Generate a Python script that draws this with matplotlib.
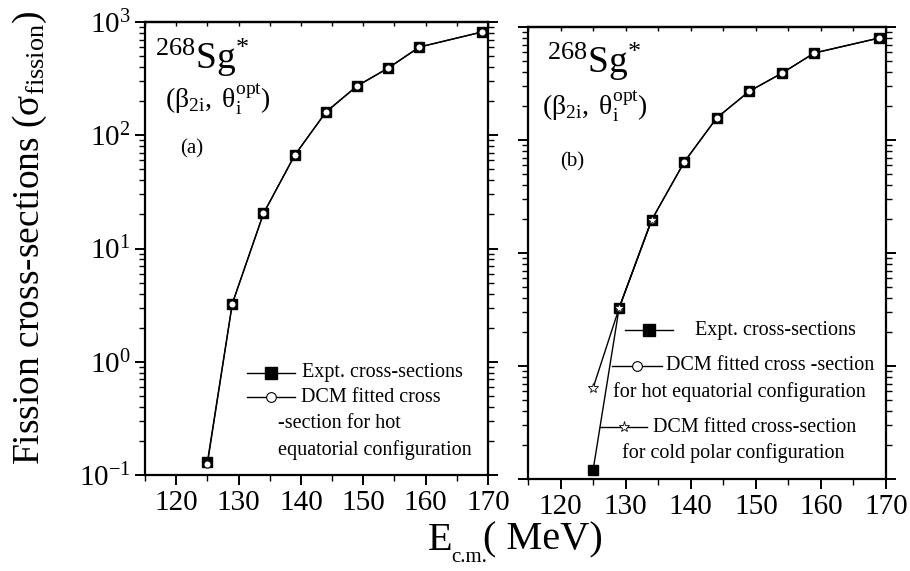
import matplotlib.pyplot as plt
from matplotlib.ticker import LogLocator, MultipleLocator, NullFormatter

plt.rcParams['font.family'] = ['Liberation Serif', 'DejaVu Serif']
plt.rcParams['mathtext.fontset'] = 'custom'
plt.rcParams['mathtext.rm'] = 'Liberation Serif'
plt.rcParams['mathtext.it'] = 'Liberation Serif:italic'
plt.rcParams['axes.unicode_minus'] = False

# centre-of-mass energies (MeV)
energy = [125, 129, 134, 139, 144, 149, 154, 159, 169]

# experimental fission cross-sections
expt_a = [0.13, 3.26, 20.4, 66.5, 160, 272, 392, 601, 815]
expt_b = [0.12, 3.26, 19.6, 63.8, 157, 270, 390, 589, 800]

# DCM fit, hot equatorial configuration
hot_a = [0.125, 3.26, 20.4, 66.5, 160, 272, 392, 601, 815]
hot_b = [3.26, 19.6, 63.8, 157, 270, 390, 589, 800]   # from 129 MeV on

# DCM fit, cold polar configuration
cold_energy = [125, 129, 134]
cold_b = [0.64, 3.26, 19.6]

W, H = 910, 571
fig = plt.figure(figsize=(W / 100, H / 100), dpi=100)


def px_axes(x0, x1, top, bottom):
    return fig.add_axes([x0 / W, 1 - bottom / H, (x1 - x0) / W, (bottom - top) / H])


ax_a = px_axes(145, 488, 22, 475)
ax_b = px_axes(528, 886, 27, 479)

for ax in (ax_a, ax_b):
    ax.set_xlim(115, 170)
    ax.set_yscale('log')
    ax.set_ylim(0.1, 1000)
    ax.xaxis.set_major_locator(MultipleLocator(10))
    ax.xaxis.set_minor_locator(MultipleLocator(5))
    ax.yaxis.set_major_locator(LogLocator(base=10, numticks=10))
    ax.yaxis.set_minor_locator(LogLocator(base=10, subs=range(2, 10), numticks=10))
    ax.yaxis.set_minor_formatter(NullFormatter())
    ax.tick_params(axis='both', which='both', direction='out', right=True,
                   labelsize=21, width=1.4)
    ax.tick_params(which='major', length=7)
    ax.tick_params(which='minor', length=4, width=1.0)
    for s in ax.spines.values():
        s.set_linewidth(1.6)
    top = ax.secondary_xaxis('top')
    top.xaxis.set_major_locator(MultipleLocator(5))
    top.tick_params(direction='in', length=3, labeltop=False, width=1.0)
    top.spines['top'].set_linewidth(1.6)

ax_b.tick_params(axis='y', labelleft=False)

sq = dict(marker='s', ms=7.8, mfc='black', mec='black', color='black', lw=1.0)
ci = dict(marker='o', ms=5.2, mfc='white', mec='black', mew=0.8, color='black', lw=1.0)
st = dict(marker='*', ms=7, mfc='white', mec='black', mew=0.6, color='black', lw=1.0)

# panel (a)
ax_a.plot(energy, expt_a, zorder=3, **sq)
ax_a.plot(energy, hot_a, zorder=4, **ci)

# panel (b)
ax_b.plot(energy, expt_b, zorder=3, **sq)
ax_b.plot(energy[1:], hot_b, zorder=4, **ci)
ax_b.plot(cold_energy, cold_b, zorder=5, **st)


def fx(ax, x):
    b = ax.get_position()
    return (x / W - b.x0) / b.width


def fy(ax, y):
    b = ax.get_position()
    return ((1 - y / H) - b.y0) / b.height


def key(ax, x0, x1, y, style):
    tr = ax.transAxes
    ax.plot([fx(ax, x0), fx(ax, x1)], [fy(ax, y)] * 2, transform=tr,
            color='black', lw=1.0, clip_on=False)
    s = dict(style)
    s.pop('color'), s.pop('lw')
    ax.plot([fx(ax, (x0 + x1) / 2)], [fy(ax, y)], transform=tr, ls='none',
            clip_on=False, **s)


def label(ax, x, y, txt, size=14.5):
    ax.text(fx(ax, x), fy(ax, y), txt, transform=ax.transAxes,
            ha='left', va='center', fontsize=size)


# legend of panel (a)
key(ax_a, 247, 295, 373, dict(sq, ms=8))
label(ax_a, 302, 373, 'Expt. cross-sections')
key(ax_a, 247, 295, 397, dict(ci, ms=7))
label(ax_a, 301, 397, 'DCM fitted cross')
label(ax_a, 278, 424, '-section for hot')
label(ax_a, 278, 450, 'equatorial configuration')

# legend of panel (b)
key(ax_b, 625, 673, 330, dict(sq, ms=8))
label(ax_b, 695, 330, 'Expt. cross-sections')
key(ax_b, 612, 662, 366, dict(ci, ms=7))
label(ax_b, 666, 366, 'DCM fitted cross -section')
label(ax_b, 613, 392, 'for hot equatorial configuration')
key(ax_b, 600, 647, 427, dict(st, ms=8))
label(ax_b, 653, 427, 'DCM fitted cross-section')
label(ax_b, 622, 453, 'for cold polar configuration')

# nucleus and deformation annotations (pixel positions of each line)
for ax, x_sg, y_sg, x_beta, y_beta, tag, x_tag, y_tag in (
        (ax_a, 155, 58, 165, 99, '(a)', 180, 149),
        (ax_b, 547, 62, 542, 106, '(b)', 560, 162)):
    ax.text(fx(ax, x_sg), fy(ax, y_sg), r'$^{268}\mathrm{Sg}^{*}$',
            transform=ax.transAxes, ha='left', va='center', fontsize=27)
    ax.text(fx(ax, x_beta), fy(ax, y_beta),
            r'$(\mathrm{β}_{\mathrm{2i}},\ \mathrm{θ}_{\mathrm{i}}^{\mathrm{opt}})$',
            transform=ax.transAxes, ha='left', va='center', fontsize=20)
    ax.text(fx(ax, x_tag), fy(ax, y_tag), tag, transform=ax.transAxes,
            ha='left', va='center', fontsize=15)

fig.text(30 / W, 1 - 238 / H, r'Fission cross-sections ($\mathrm{σ}_{\mathrm{fission}}$)',
         rotation=90, ha='center', va='center', fontsize=27)

# x label built from pieces so the subscript stays compact
fig.text(428 / W, 1 - 540 / H, 'E', ha='left', va='center', fontsize=29)
fig.text(451 / W, 1 - 557 / H, 'c.m.', ha='left', va='center', fontsize=15)
fig.text(483 / W, 1 - 540 / H, '( MeV)', ha='left', va='center', fontsize=29)

fig.savefig('out.png', dpi=100)
